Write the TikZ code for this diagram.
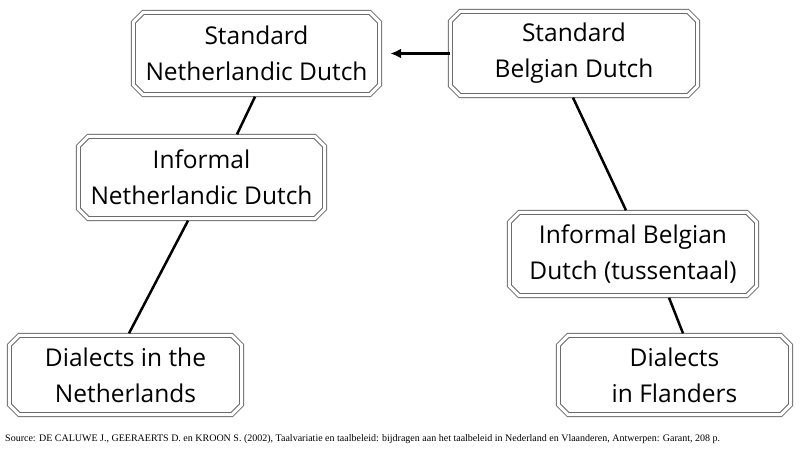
\documentclass[tikz,border=0pt]{standalone}
\usepackage{fontspec}
\setmainfont{Open Sans}
\newfontfamily\srcfont{Liberation Serif}
\usetikzlibrary{arrows.meta}
\definecolor{boxgray}{gray}{0.42}
\begin{document}
\begin{tikzpicture}[x=1pt,y=-1pt,
  box/.style={rectangle, draw=none, inner sep=0pt, align=center,
    font=\fontsize{24.5}{36}\selectfont},
  frame/.style={draw=boxgray, line width=1pt, double=white, double distance=3pt},
  link/.style={line width=2.5pt, black},
  arr/.style={line width=2.5pt, black, -{Latex[length=11pt,width=10pt]}}]
\useasboundingbox[fill=white] (0,0) rectangle (800,450);

\node[box, minimum width=246pt, minimum height=82pt] (n1) at (256.5,53.5) {Standard\\Netherlandic Dutch};
\node[box, minimum width=247pt, minimum height=84pt] (n2) at (574,53.5) {Standard\\Belgian Dutch};
\node[box, minimum width=246pt, minimum height=82pt] (n3) at (201.5,177.5) {Informal\\Netherlandic Dutch};
\node[box, minimum width=247pt, minimum height=83pt] (n4) at (633,254) {Informal Belgian\\Dutch (tussentaal)};
\node[box, minimum width=232pt, minimum height=79pt] (n5) at (125.5,375) {Dialects in the\\Netherlands};
\node[box, minimum width=232pt, minimum height=79pt] (n6) at (674.5,375) {Dialects\\in Flanders};

\foreach \n in {n1,n2,n3,n4,n5,n6}
  \draw[frame] ([xshift=10pt]\n.north west) -- ([xshift=-10pt]\n.north east)
    -- ([yshift=-10pt]\n.north east) -- ([yshift=10pt]\n.south east)
    -- ([xshift=-10pt]\n.south east) -- ([xshift=10pt]\n.south west)
    -- ([yshift=10pt]\n.south west) -- ([yshift=-10pt]\n.north west) -- cycle;

\draw[link] ([xshift=-1.5pt,yshift=-2pt]n1.south) -- ([xshift=35.5pt,yshift=2pt]n3.north);
\draw[link] ([xshift=-13.5pt,yshift=-2pt]n3.south) -- ([xshift=3.5pt,yshift=2pt]n5.north);
\draw[link] ([xshift=-1pt,yshift=-2pt]n2.south) -- ([xshift=-7pt,yshift=2pt]n4.north);
\draw[link] ([xshift=36pt,yshift=-2pt]n4.south) -- ([xshift=8.5pt,yshift=2pt]n6.north);
\draw[arr, shorten >=10.5pt] (n2.west) -- (n1.east);

\node[anchor=base west, inner sep=0pt, font=\srcfont\fontsize{10}{12}\selectfont] (src) at (5,441)
  {Source: DE CALUWE J., GEERAERTS D. en KROON S. (2002), Taalvariatie en taalbeleid: bijdragen aan het taalbeleid in Nederland en Vlaanderen, Antwerpen: Garant, 208 p.};
\end{tikzpicture}
\end{document}
